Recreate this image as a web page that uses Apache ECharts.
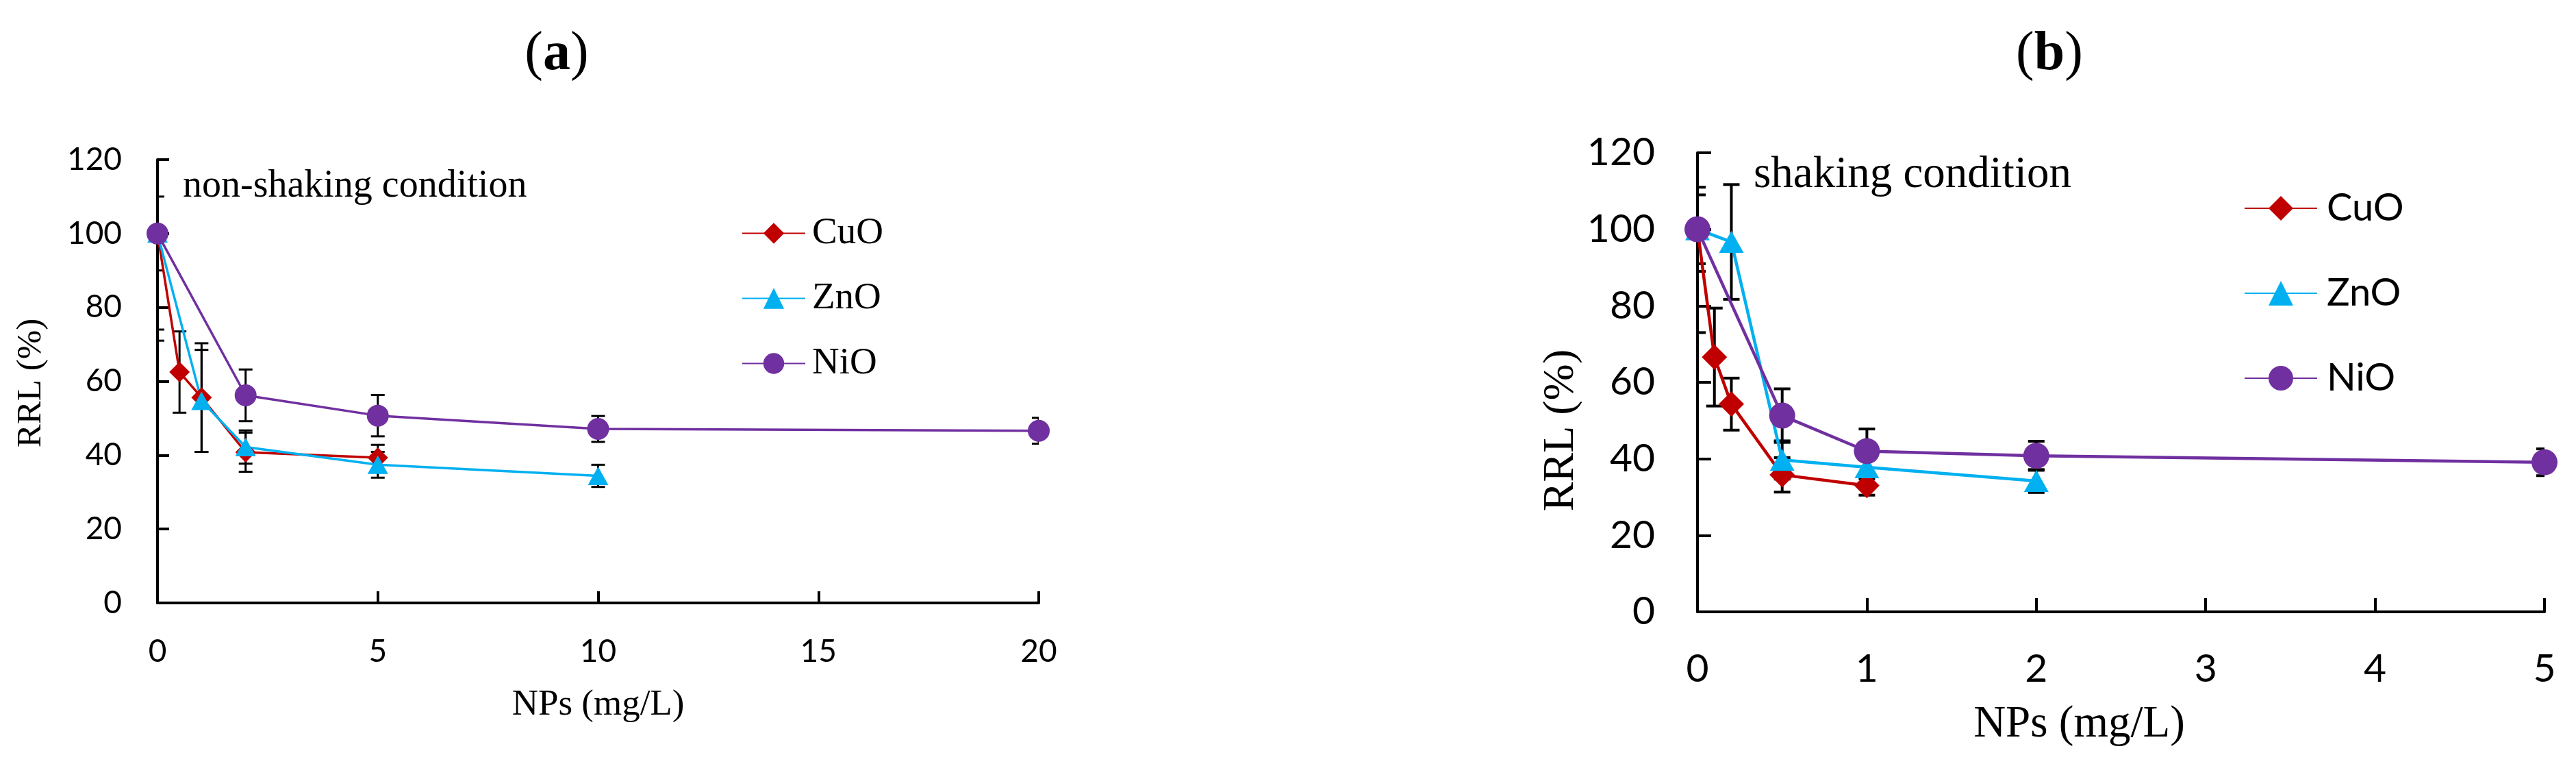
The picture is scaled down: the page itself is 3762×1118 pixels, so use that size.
<!DOCTYPE html>
<html><head><meta charset="utf-8">
<script src="https://cdn.jsdelivr.net/npm/echarts@6/dist/echarts.min.js"></script>
<style>html,body{margin:0;padding:0;background:#fff}#c{width:3762px;height:1118px}</style>
</head><body><div id="c"></div>
<script>
// ---------- Panel (a): non-shaking condition ----------
const seriesNames = ['CuO', 'ZnO', 'NiO'];
const xA_CuO = [0, 0.5, 1, 2, 5];
const yA_CuO = [100, 62.5, 55.6, 40.8, 39.3];
const eA_CuO = [26, 11, 14.7, 5.3, 3.5];
const xA_ZnO = [0, 1, 2, 5, 10];
const yA_ZnO = [100, 54.7, 42.2, 37.4, 34.4];
const eA_ZnO = [29, 13.8, 4.5, 3.5, 3];
const xA_NiO = [0, 2, 5, 10, 20];
const yA_NiO = [100, 56.2, 50.7, 47.1, 46.6];
const eA_NiO = [10, 7, 5.6, 3.5, 3.5];
// ---------- Panel (b): shaking condition ----------
const xB_CuO = [0, 0.1, 0.2, 0.5, 1];
const yB_CuO = [100, 66.6, 54.3, 35.8, 33.0];
const eB_CuO = [27, 12.8, 6.8, 4.5, 2.5];
const xB_ZnO = [0, 0.2, 0.5, 1, 2];
const yB_ZnO = [100, 96.7, 39.7, 37.8, 34.2];
const eB_ZnO = [9, 15, 5, 3, 3];
const xB_NiO = [0, 0.5, 1, 2, 5];
const yB_NiO = [100, 51.3, 42, 40.8, 39.1];
const eB_NiO = [11, 7, 5.8, 3.8, 3.5];

const panelTitles = ['a', 'b'];
const notes = ['non-shaking condition', 'shaking condition'];
const xAxisName = 'NPs (mg/L)';
const yAxisName = 'RRL (%)';

const colors = { CuO: '#C00000', ZnO: '#00B0F0', NiO: '#7030A0' };
const symbols = { CuO: 'diamond', ZnO: 'triangle', NiO: 'circle' };
const SERIF = "'Liberation Serif','Times New Roman',serif";
const SANS = "Lato,'Open Sans',sans-serif";

function pts(xs, ys) { return xs.map((x, i) => [x, ys[i]]); }
function errPts(xs, ys, es) { return xs.map((x, i) => [x, ys[i], es[i]]); }

function errRender(cap, lw) {
  return function (params, api) {
    const x = api.value(0), y = api.value(1), e = api.value(2);
    const t = api.coord([x, y + e]);
    const b = api.coord([x, y - e]);
    const st = { stroke: '#000', lineWidth: lw };
    return {
      type: 'group', children: [
        { type: 'line', shape: { x1: t[0], y1: t[1], x2: b[0], y2: b[1] }, style: st },
        { type: 'line', shape: { x1: t[0] - cap / 2, y1: t[1], x2: t[0] + cap / 2, y2: t[1] }, style: st },
        { type: 'line', shape: { x1: b[0] - cap / 2, y1: b[1], x2: b[0] + cap / 2, y2: b[1] }, style: st }
      ]
    };
  };
}

const dataA = {
  CuO: [xA_CuO, yA_CuO, eA_CuO],
  ZnO: [xA_ZnO, yA_ZnO, eA_ZnO],
  NiO: [xA_NiO, yA_NiO, eA_NiO]
};
const dataB = {
  CuO: [xB_CuO, yB_CuO, eB_CuO],
  ZnO: [xB_ZnO, yB_ZnO, eB_ZnO],
  NiO: [xB_NiO, yB_NiO, eB_NiO]
};

const series = [];
function addPanel(data, idx, lw, sizes, cap, elw) {
  seriesNames.forEach(n => {
    const d = data[n];
    series.push({
      name: n + ' err', type: 'custom', xAxisIndex: idx, yAxisIndex: idx,
      data: errPts(d[0], d[1], d[2]), renderItem: errRender(cap, elw),
      clip: true, silent: true, z: 1, encode: { x: 0, y: 1 }
    });
  });
  seriesNames.forEach(n => {
    const d = data[n];
    series.push({
      name: n, type: 'line', xAxisIndex: idx, yAxisIndex: idx,
      data: pts(d[0], d[1]), symbol: symbols[n], symbolSize: sizes[n],
      showSymbol: true, clip: false, z: 3,
      lineStyle: { color: colors[n], width: lw },
      itemStyle: { color: colors[n] }
    });
  });
}
addPanel(dataA, 0, 3.5, { CuO: 30, ZnO: [30, 27], NiO: 32 }, 20, 3);
addPanel(dataB, 1, 4.5, { CuO: 37, ZnO: [36, 32], NiO: 38 }, 24, 4);

function xAxis(idx, max, interval, fs, margin, tickLen, nameFs, nameGap, namePad) {
  return {
    type: 'value', gridIndex: idx, min: 0, max: max, interval: interval,
    name: xAxisName, nameLocation: 'middle', nameGap: nameGap,
    nameTextStyle: { fontFamily: SERIF, fontSize: nameFs, color: '#000', lineHeight: nameFs + 2, padding: namePad },
    axisLine: { show: true, onZero: false, lineStyle: { color: '#000', width: 4 } },
    axisTick: { show: true, inside: true, length: tickLen, lineStyle: { color: '#000', width: 4 } },
    axisLabel: { fontFamily: SANS, fontSize: fs, color: '#000', margin: margin },
    splitLine: { show: false }
  };
}
function yAxis(idx, fs, margin, tickLen) {
  return {
    type: 'value', gridIndex: idx, min: 0, max: 120, interval: 20,
    axisLine: { show: true, onZero: false, lineStyle: { color: '#000', width: 4 } },
    axisTick: { show: true, inside: true, length: tickLen, lineStyle: { color: '#000', width: 4 } },
    axisLabel: { fontFamily: SANS, fontSize: fs, color: '#000', margin: margin },
    splitLine: { show: false }
  };
}

const option = {
  animation: false,
  backgroundColor: '#fff',
  grid: [
    { left: 230, top: 233, width: 1287, height: 647 },
    { left: 2479, top: 223, width: 1237, height: 670 }
  ],
  xAxis: [
    xAxis(0, 20, 5, 46, 48, 17, 53, 122, [0, 0, 0, 0]),
    xAxis(1, 5, 1, 57, 55, 20, 65, 131, [0, 122, 0, 0])
  ],
  yAxis: [
    yAxis(0, 46, 52, 17),
    yAxis(1, 57, 62, 20)
  ],
  legend: [
    {
      left: 1078, top: 308, orient: 'vertical', itemWidth: 92, itemHeight: 38, itemGap: 40,
      selectedMode: false, data: seriesNames,
      textStyle: { fontFamily: SERIF, fontSize: 55, color: '#000', padding: [0, 0, 0, 5] }
    },
    {
      left: 3272, top: 271, orient: 'vertical', itemWidth: 106, itemHeight: 45, itemGap: 68,
      selectedMode: false, data: seriesNames,
      textStyle: { fontFamily: SANS, fontSize: 56, color: '#000', padding: [0, 0, 0, 9] }
    }
  ],
  graphic: [
    { type: 'text', x: 813, y: 80, style: { text: '({b|' + panelTitles[0] + '})', fontFamily: SERIF, fontSize: 80, fill: '#000', align: 'center', verticalAlign: 'middle', rich: { b: { fontFamily: SERIF, fontSize: 80, fontWeight: 'bold', fill: '#000' } } } },
    { type: 'text', x: 2993, y: 80, style: { text: '({b|' + panelTitles[1] + '})', fontFamily: SERIF, fontSize: 80, fill: '#000', align: 'center', verticalAlign: 'middle', rich: { b: { fontFamily: SERIF, fontSize: 80, fontWeight: 'bold', fill: '#000' } } } },
    { type: 'text', x: 267, y: 272, style: { text: notes[0], fontFamily: SERIF, fontSize: 56, fill: '#000', verticalAlign: 'middle' } },
    { type: 'text', x: 2561, y: 256, style: { text: notes[1], fontFamily: SERIF, fontSize: 65, fill: '#000', verticalAlign: 'middle' } },
    { type: 'text', x: 46, y: 559, rotation: Math.PI / 2, style: { text: yAxisName, fontFamily: SERIF, fontSize: 51, fill: '#000', align: 'center', verticalAlign: 'middle' } },
    { type: 'text', x: 2280, y: 628, rotation: Math.PI / 2, style: { text: yAxisName, fontFamily: SERIF, fontSize: 64, fill: '#000', align: 'center', verticalAlign: 'middle' } }
  ],
  series: series
};
const chart = echarts.init(document.getElementById('c'), null, { renderer: 'canvas', width: 3762, height: 1118 });
chart.setOption(option);
</script>
</body></html>
